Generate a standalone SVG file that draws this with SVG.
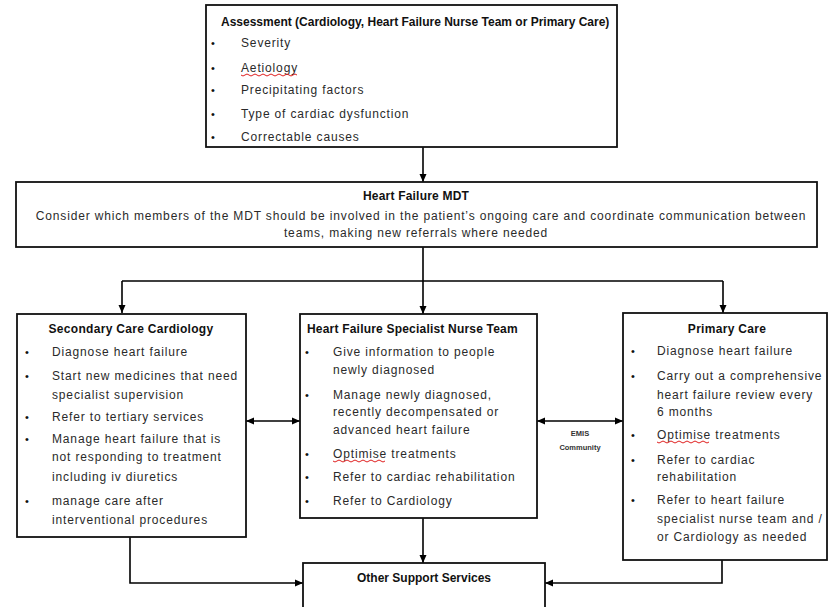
<svg xmlns="http://www.w3.org/2000/svg" width="829" height="607" viewBox="0 0 829 607">
<defs>
<marker id="ah" markerWidth="8" markerHeight="8" viewBox="0 0 8 8" refX="8" refY="4" orient="auto-start-reverse" markerUnits="userSpaceOnUse">
<path d="M0,0.5 L8,4 L0,7.5 Z" fill="#000"/>
</marker>
<style>
.box{fill:#fff;stroke:#111;stroke-width:1.8}
.t{font-family:"Liberation Sans",Arial,sans-serif;font-size:12px;letter-spacing:0.85px;fill:#2a2a2a}
.h{font-family:"Liberation Sans",Arial,sans-serif;font-size:12px;font-weight:bold;letter-spacing:0.3px;fill:#111}
.s{font-family:"Liberation Sans",Arial,sans-serif;font-size:7.5px;font-weight:bold;fill:#333}
.b{font-family:"Liberation Sans",Arial,sans-serif;font-size:11px;fill:#111}
.m{text-anchor:middle}
.c{fill:none;stroke:#000;stroke-width:1.6}
.sq{fill:none;stroke:#e02020;stroke-width:1}
</style>
</defs>
<rect width="829" height="607" fill="#fff"/>

<g id="connectors">
<path class="c" d="M423,147 V182" marker-end="url(#ah)"/>
<path class="c" d="M423,247 V281 M122,281 H723"/>
<path class="c" d="M122,281 V313" marker-end="url(#ah)"/>
<path class="c" d="M423,281 V314" marker-end="url(#ah)"/>
<path class="c" d="M723,281 V313" marker-end="url(#ah)"/>
<path class="c" d="M246,421 H300" marker-start="url(#ah)" marker-end="url(#ah)"/>
<path class="c" d="M537,421 H623" marker-start="url(#ah)" marker-end="url(#ah)"/>
<path class="c" d="M423,518 V563" marker-end="url(#ah)"/>
<path class="c" d="M130,537 V583 H303" marker-end="url(#ah)"/>
<path class="c" d="M722,560 V583 H545" marker-end="url(#ah)"/>
</g>

<g id="assessment">
<rect class="box" x="206" y="5" width="411" height="142"/>
<text class="h" x="221" y="26" style="letter-spacing:0">Assessment (Cardiology, Heart Failure Nurse Team or Primary Care)</text>
<text class="b" x="211" y="47">•</text><text class="t" x="241" y="47">Severity</text>
<text class="b" x="211" y="72">•</text><text class="t" x="241" y="72">Aetiology</text>
<path class="sq" d="M241,75 q2,2 4,0 t4,0 t4,0 t4,0 t4,0 t4,0 t4,0 t4,0 t4,0 t4,0 t4,0 t4,0 t4,0 t4,0"/>
<text class="b" x="211" y="94">•</text><text class="t" x="241" y="94">Precipitating factors</text>
<text class="b" x="211" y="118">•</text><text class="t" x="241" y="118">Type of cardiac dysfunction</text>
<text class="b" x="211" y="141">•</text><text class="t" x="241" y="141">Correctable causes</text>
</g>

<g id="mdt">
<rect class="box" x="16" y="182" width="801" height="65"/>
<text class="h m" x="416" y="200" style="letter-spacing:0.2px">Heart Failure MDT</text>
<text class="t m" x="421" y="220">Consider  which members of the MDT should be involved in the patient’s ongoing care and coordinate communication  between</text>
<text class="t m" x="416" y="237">teams, making new referrals where needed</text>
</g>

<g id="secondary-care">
<rect class="box" x="17" y="314" width="229" height="223"/>
<text class="h m" x="131" y="333">Secondary  Care Cardiology</text>
<text class="b" x="25" y="356">•</text><text class="t" x="52" y="356">Diagnose heart failure</text>
<text class="b" x="25" y="380">•</text><text class="t" x="52" y="380">Start new medicines that need</text>
<text class="t" x="52" y="399">specialist supervision</text>
<text class="b" x="25" y="421">•</text><text class="t" x="52" y="421">Refer to tertiary services</text>
<text class="b" x="25" y="443">•</text><text class="t" x="52" y="443">Manage heart failure that is</text>
<text class="t" x="52" y="461">not responding  to treatment</text>
<text class="t" x="52" y="481">including iv diuretics</text>
<text class="b" x="25" y="505">•</text><text class="t" x="52" y="505">manage care after</text>
<text class="t" x="52" y="524">interventional procedures</text>
</g>

<g id="nurse-team">
<rect class="box" x="300" y="314" width="237" height="204"/>
<text class="h" x="307" y="333" style="letter-spacing:0.2px">Heart Failure Specialist Nurse Team</text>
<text class="b" x="305" y="356">•</text><text class="t" x="333" y="356">Give information to people</text>
<text class="t" x="333" y="374">newly diagnosed</text>
<text class="b" x="305" y="399">•</text><text class="t" x="333" y="399">Manage newly diagnosed,</text>
<text class="t" x="333" y="416">recently decompensated  or</text>
<text class="t" x="333" y="434">advanced heart failure</text>
<text class="b" x="305" y="458">•</text><text class="t" x="333" y="458">Optimise treatments</text>
<path class="sq" d="M333,461 q2,2 4,0 t4,0 t4,0 t4,0 t4,0 t4,0 t4,0 t4,0 t4,0 t4,0 t4,0 t4,0 t4,0"/>
<text class="b" x="305" y="481">•</text><text class="t" x="333" y="481">Refer to cardiac rehabilitation</text>
<text class="b" x="305" y="505">•</text><text class="t" x="333" y="505">Refer  to Cardiology</text>
</g>

<g id="emis-label">
<text class="s m" x="580" y="436">EMIS</text>
<text class="s m" x="580" y="450">Community</text>
</g>

<g id="primary-care">
<rect class="box" x="623" y="313" width="204" height="247"/>
<text class="h m" x="727" y="333">Primary Care</text>
<text class="b" x="631" y="355">•</text><text class="t" x="657" y="355">Diagnose heart failure</text>
<text class="b" x="631" y="380">•</text><text class="t" x="657" y="380">Carry out a comprehensive</text>
<text class="t" x="657" y="399">heart failure review every</text>
<text class="t" x="657" y="416">6 months</text>
<text class="b" x="631" y="439">•</text><text class="t" x="657" y="439">Optimise treatments</text>
<path class="sq" d="M657,442 q2,2 4,0 t4,0 t4,0 t4,0 t4,0 t4,0 t4,0 t4,0 t4,0 t4,0 t4,0 t4,0 t4,0"/>
<text class="b" x="631" y="464">•</text><text class="t" x="657" y="464">Refer to cardiac</text>
<text class="t" x="657" y="481">rehabilitation</text>
<text class="b" x="631" y="504">•</text><text class="t" x="657" y="504">Refer to heart failure</text>
<text class="t" x="657" y="523">specialist nurse team and /</text>
<text class="t" x="657" y="541">or Cardiology as needed</text>
</g>

<g id="other-support">
<rect class="box" x="303" y="563" width="242" height="60"/>
<text class="h m" x="424" y="582" style="letter-spacing:0">Other Support  Services</text>
</g>
</svg>
